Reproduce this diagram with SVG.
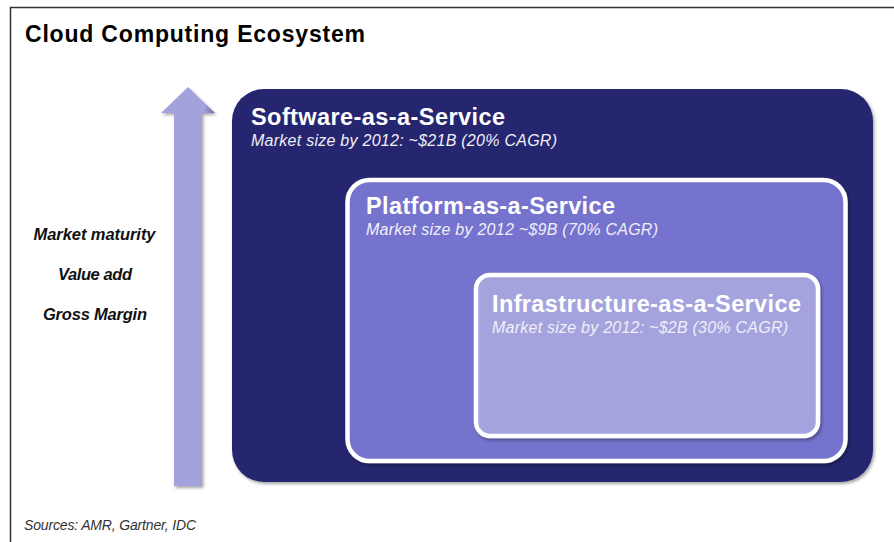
<svg xmlns="http://www.w3.org/2000/svg" width="894" height="542" viewBox="0 0 894 542">
<style>
.ttl{font-family:"Liberation Sans",Arial,sans-serif;font-weight:bold;fill:#fff;font-size:23.5px}
.sub{font-family:"Liberation Sans",Arial,sans-serif;font-style:italic;fill:#f0f0f8;font-size:16px}
.lbl{font-family:"Liberation Sans",Arial,sans-serif;font-style:italic;font-weight:bold;fill:#111;font-size:16.5px;text-anchor:middle}
</style>
<defs>
<linearGradient id="shaft" x1="0" y1="0" x2="1" y2="0">
<stop offset="0" stop-color="#a4a2dc"/>
<stop offset="0.8" stop-color="#a4a2dc"/>
<stop offset="1" stop-color="#6c6a9c"/>
</linearGradient>
<filter id="sh" x="-5%" y="-5%" width="110%" height="110%">
<feDropShadow dx="1.5" dy="2" stdDeviation="1.5" flood-color="#000" flood-opacity="0.35"/>
</filter>
</defs>
<rect x="0" y="0" width="894" height="542" fill="#fff"/>
<path d="M10.5 542 V7.5 H894" fill="none" stroke="#333" stroke-width="1.5"/>
<text x="25" y="42" textLength="340" lengthAdjust="spacing" style="font-family:'Liberation Sans',Arial,sans-serif;font-weight:bold;font-size:23px;fill:#000">Cloud Computing  Ecosystem</text>
<g id="arrow" filter="url(#sh)">
<path d="M174 486 V113 H161 L188 87 L215 113 H202 V486 Z" fill="url(#shaft)"/>
</g>
<g id="labels">
<text class="lbl" x="94.5" y="240" textLength="122" lengthAdjust="spacing">Market maturity</text>
<text class="lbl" x="95" y="280" textLength="74" lengthAdjust="spacing">Value add</text>
<text class="lbl" x="95" y="320" textLength="104" lengthAdjust="spacing">Gross Margin</text>
</g>
<g id="saas">
<rect x="232" y="89" width="641" height="393" rx="32" fill="#282870" filter="url(#sh)"/>
<text class="ttl" x="251" y="125" textLength="254" lengthAdjust="spacing">Software-as-a-Service</text>
<text class="sub" x="251" y="146" textLength="306" lengthAdjust="spacing">Market size by 2012: ~$21B (20% CAGR)</text>
</g>
<g id="paas">
<rect x="347.5" y="180" width="498" height="281" rx="22" fill="#7473cd" stroke="#fff" stroke-width="4.5" filter="url(#sh)"/>
<text class="ttl" x="366" y="214" textLength="249" lengthAdjust="spacing">Platform-as-a-Service</text>
<text class="sub" x="366" y="235" textLength="292" lengthAdjust="spacing">Market size by 2012 ~$9B (70% CAGR)</text>
</g>
<g id="iaas">
<rect x="476" y="275" width="342" height="161" rx="14" fill="#a4a3de" stroke="#fff" stroke-width="4.5" filter="url(#sh)"/>
<text class="ttl" x="492" y="312" textLength="309" lengthAdjust="spacing">Infrastructure-as-a-Service</text>
<text class="sub" x="492" y="333" textLength="296" lengthAdjust="spacing">Market size by 2012: ~$2B (30% CAGR)</text>
</g>
<g id="connectors"/>
<text x="24" y="530" textLength="172" lengthAdjust="spacing" style="font-family:'Liberation Sans',Arial,sans-serif;font-style:italic;font-size:14px;fill:#333">Sources: AMR, Gartner,  IDC</text>
</svg>
